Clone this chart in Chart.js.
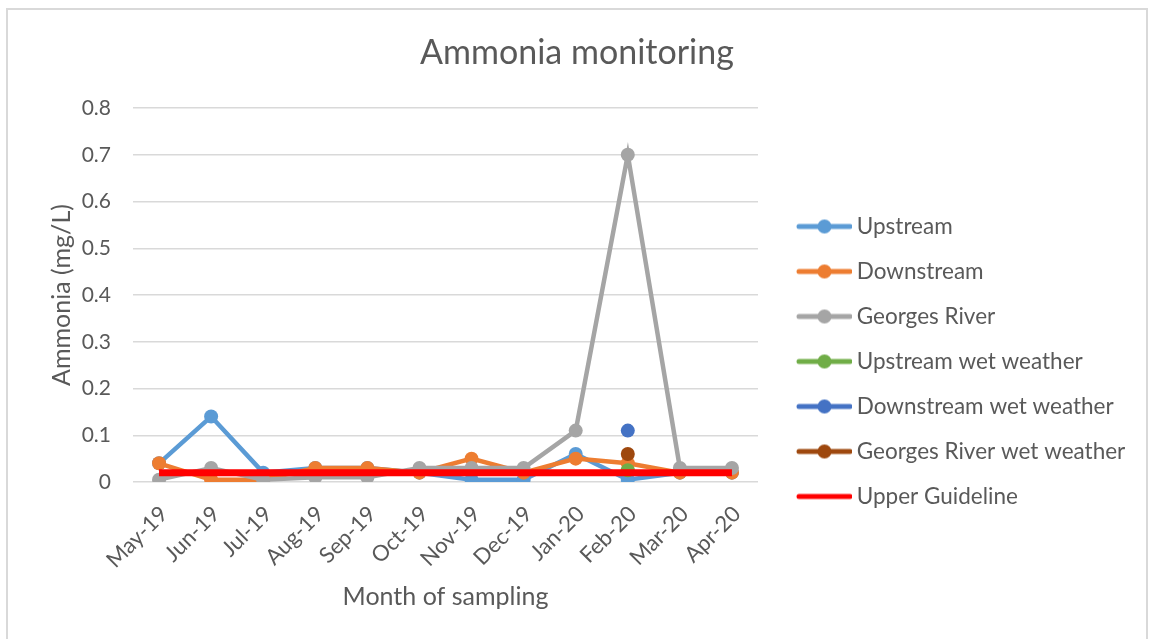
<!DOCTYPE html>
<html>
<head>
    <title>Ammonia monitoring</title>
    <meta charset="utf-8">
    <script src="https://cdn.jsdelivr.net/npm/chart.js@4.4.0/dist/chart.umd.min.js"></script>
    <style>
        body { margin: 0; background: #fff; }
        #frame {
            position: absolute; left: 6px; top: 8px;
            width: 1142px; height: 633px;
            border: 2px solid #d9d9d9; box-sizing: border-box;
        }
    </style>
</head>
<body>

<div id="frame">
    <canvas id="myChart" width="1138" height="629"></canvas>
</div>

<script>
// month labels
const months = ['May-19', 'Jun-19', 'Jul-19', 'Aug-19', 'Sep-19', 'Oct-19',
                'Nov-19', 'Dec-19', 'Jan-20', 'Feb-20', 'Mar-20', 'Apr-20'];

// ammonia values (mg/L)
const upstream      = [0.04, 0.14, 0.02, 0.03, 0.03, 0.02, 0.005, 0.005, 0.06, 0.005, 0.02, 0.02];
const downstream    = [0.04, 0.005, 0.005, 0.03, 0.03, 0.02, 0.05, 0.02, 0.05, 0.04, 0.02, 0.02];
const georgesRiver  = [0.005, 0.03, 0.005, 0.01, 0.01, 0.03, 0.03, 0.03, 0.11, 0.7, 0.03, 0.03];
const upstreamWet   = [null, null, null, null, null, null, null, null, null, 0.025, null, null];
const downstreamWet = [null, null, null, null, null, null, null, null, null, 0.11, null, null];
const georgesWet    = [null, null, null, null, null, null, null, null, null, 0.06, null, null];
const guideline     = [0.02, 0.02, 0.02, 0.02, 0.02, 0.02, 0.02, 0.02, 0.02, 0.02, 0.02, 0.02];

const FONT = 'Lato, "Liberation Sans", sans-serif';
const TEXT = '#595959';

// legend symbol: line with a dot in the middle (Excel style)
function legendIcon(color, withDot) {
    const c = document.createElement('canvas');
    c.width = 78; c.height = 16;
    const g = c.getContext('2d');
    g.strokeStyle = color;
    g.lineWidth = 5;
    g.lineCap = 'round';
    g.beginPath();
    g.moveTo(25, 8); g.lineTo(76, 8);
    g.stroke();
    if (withDot) {
        g.fillStyle = color;
        g.beginPath();
        g.arc(50.5, 8, 7, 0, Math.PI * 2);
        g.fill();
    }
    return c;
}

function series(label, data, color, order) {
    return {
        label: label,
        data: data,
        borderColor: color,
        backgroundColor: color,
        borderWidth: 4.5,
        pointRadius: 7,
        pointHoverRadius: 7,
        pointBorderWidth: 0,
        pointStyle: 'circle',
        order: order,
        legendIcon: legendIcon(color, true)
    };
}

const datasets = [
    series('Upstream', upstream, '#5B9BD5', 6),
    series('Downstream', downstream, '#ED7D31', 5),
    series('Georges River', georgesRiver, '#A5A5A5', 4),
    series('Upstream wet weather', upstreamWet, '#70AD47', 3),
    series('Downstream wet weather', downstreamWet, '#4472C4', 2),
    series('Georges River wet weather', georgesWet, '#9E480E', 1),
    {
        label: 'Upper Guideline',
        data: guideline,
        borderColor: '#FF0000',
        backgroundColor: '#FF0000',
        borderWidth: 7,
        pointRadius: 0,
        order: 0,
        legendIcon: legendIcon('#FF0000', false)
    }
];

// keep the legend a fixed width so the plot area lines up,
// and nudge the legend column down a bit
const legendWidth = {
    id: 'legendWidth',
    beforeLayout(chart) {
        const lg = chart.legend;
        if (lg && !lg._fixedFit) {
            const fit = lg.fit;
            lg.fit = function () {
                fit.call(this);
                this.width = 388;
                if (this.columnSizes && this.columnSizes[0]) {
                    this.columnSizes[0].height -= 74;
                }
            };
            lg._fixedFit = true;
        }
    }
};

const ctx = document.getElementById('myChart').getContext('2d');
const myChart = new Chart(ctx, {
    type: 'line',
    data: { labels: months, datasets: datasets },
    plugins: [legendWidth],
    options: {
        responsive: false,
        animation: false,
        layout: { padding: 0 },
        plugins: {
            title: {
                display: true,
                text: 'Ammonia monitoring',
                color: TEXT,
                font: { family: FONT, size: 34, weight: 'normal' },
                padding: { top: 22.6, bottom: 34.6 }
            },
            legend: {
                position: 'right',
                align: 'center',
                labels: {
                    usePointStyle: true,
                    pointStyleWidth: 65,
                    padding: 22.5,
                    color: TEXT,
                    font: { family: FONT, size: 22.5 },
                    generateLabels(chart) {
                        return chart.data.datasets.map((ds, i) => ({
                            text: ds.label,
                            pointStyle: ds.legendIcon,
                            fontColor: TEXT,
                            strokeStyle: ds.borderColor,
                            fillStyle: ds.borderColor,
                            lineWidth: 0,
                            hidden: false,
                            datasetIndex: i
                        }));
                    }
                }
            },
            tooltip: { enabled: false }
        },
        scales: {
            x: {
                offset: true,
                grid: { display: false, drawTicks: false },
                border: { display: false },
                ticks: {
                    color: TEXT,
                    font: { family: FONT, size: 22 },
                    minRotation: 45,
                    maxRotation: 45,
                    padding: 19,
                    labelOffset: 5,
                    autoSkip: false
                },
                title: {
                    display: true,
                    text: 'Month of sampling',
                    color: TEXT,
                    font: { family: FONT, size: 25 },
                    padding: { top: 0, bottom: 27 }
                },
                afterFit(scale) { scale.height = 157; }
            },
            y: {
                min: 0,
                max: 0.8,
                grid: { color: '#d9d9d9', lineWidth: 1.5, drawTicks: false },
                border: { display: false },
                ticks: {
                    stepSize: 0.1,
                    color: TEXT,
                    font: { family: FONT, size: 21 },
                    padding: 22
                },
                title: {
                    display: true,
                    text: 'Ammonia (mg/L)',
                    color: TEXT,
                    font: { family: FONT, size: 25 },
                    padding: { top: 39, bottom: 0 }
                },
                afterFit(scale) { scale.width = 125; }
            }
        }
    }
});
</script>

</body>
</html>
